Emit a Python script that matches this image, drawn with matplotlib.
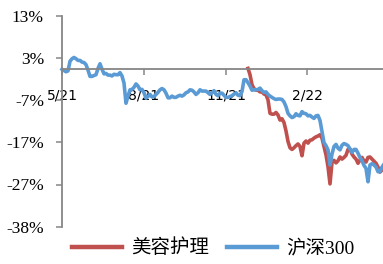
import matplotlib
matplotlib.use("Agg")
import matplotlib.pyplot as plt
import numpy as np

# ---- data (cumulative return, %) ----
hs300 = [0.0, -0.3, -0.6, -0.4, 1.9, 2.5, 2.8, 2.5, 2.1, 2.1,
         1.7, 1.6, 1.1, -0.2, -1.7, -1.7, -1.5, -1.3, 0.2, 1.3,
         0.0, -1.1, -1.0, -1.4, -1.4, -1.6, -1.2, -1.3, -1.3, -0.8,
         -1.6, -3.3, -8.1, -6.4, -4.9, -4.8, -4.3, -3.5, -4.0, -4.9,
         -4.8, -5.6, -6.9, -6.5, -6.0, -6.6, -6.5, -6.0, -5.5, -4.9,
         -4.6, -4.9, -5.7, -6.8, -6.8, -6.4, -6.7, -6.7, -6.4, -6.2,
         -6.4, -6.1, -5.6, -5.4, -4.9, -5.0, -5.4, -6.0, -5.6, -4.9,
         -5.2, -5.2, -5.2, -5.6, -6.0, -5.6, -5.1, -6.0, -6.3, -5.7,
         -5.7, -6.2, -6.7, -6.7, -6.5, -6.3, -5.9, -5.6, -6.2, -6.3,
         -5.3, -2.5, -2.5, -3.2, -4.0, -5.0, -4.9, -4.9, -4.8, -4.5,
         -5.1, -5.5, -5.4, -6.0, -6.4, -6.7, -7.0, -7.2, -7.1, -7.1,
         -7.2, -7.8, -8.9, -10.5, -11.1, -11.5, -11.3, -10.6, -11.0, -11.1,
         -10.1, -10.5, -10.6, -11.1, -11.0, -11.4, -11.7, -11.1, -11.0, -12.2,
         -14.8, -17.5, -18.2, -19.2, -22.8, -20.2, -18.4, -17.9, -18.8, -19.2,
         -18.1, -17.7, -17.9, -18.2, -19.0, -19.8, -19.1, -19.1, -20.0, -21.0,
         -21.8, -22.9, -23.6, -26.8, -22.8, -22.5, -22.8, -23.3, -24.4, -24.4,
         -23.3, -22.6]

beauty_start = 93
beauty = [0.2, -1.3, -3.7, -4.6, -5.0, -5.0, -5.4, -5.4, -5.9, -6.1,
          -7.3, -10.5, -10.7, -10.7, -10.3, -10.9, -12.1, -11.8, -12.7, -14.7,
          -17.2, -18.7, -19.1, -18.7, -18.2, -17.8, -18.4, -20.6, -17.6, -17.1,
          -17.6, -16.9, -16.8, -16.4, -16.1, -15.9, -15.6, -16.4, -18.4, -20.4,
          -23.2, -27.3, -22.2, -21.7, -22.3, -21.8, -20.9, -21.4, -21.0, -20.5,
          -19.1, -19.0, -20.2, -20.9, -21.4, -22.4, -21.6, -21.0, -21.9, -22.1,
          -21.0, -20.9, -21.4, -21.9, -22.4, -23.3, -24.5, -24.0, -23.2]

series_names = ["美容护理", "沪深300"]
x_tick_pos = [0, 41, 82, 122.7]
x_tick_labels = ["5/21", "8/21", "11/21", "2/22"]
y_tick_labels = ["-38%", "-27%", "-17%", "-7%", "3%", "13%"]
y_min, y_max = -37.5, 12.75

# ---- plot ----
W, H = 383, 264
fig = plt.figure(figsize=(W / 100, H / 100), dpi=100)
ax = fig.add_axes([62 / W, 1 - 226.7 / H, (384 - 62) / W, (226.7 - 15.7) / H])

x_all = np.arange(len(hs300))
x_beauty = np.arange(beauty_start, beauty_start + len(beauty))

red = "#C0504D"
blue = "#5B9BD5"
ax.plot(x_beauty, beauty, color=red, lw=2.6, label=series_names[0],
        solid_joinstyle="round", clip_on=False)
ax.plot(x_all, hs300, color=blue, lw=2.6, label=series_names[1],
        solid_joinstyle="round", clip_on=False)

ax.set_xlim(0, len(hs300) - 1)
ax.set_ylim(y_min, y_max)
ax.set_yticks(np.linspace(y_min, y_max, 6))
ax.set_yticklabels(y_tick_labels, family="Liberation Serif", fontsize=12.5)
ax.set_xticks(x_tick_pos)
ax.set_xticklabels(x_tick_labels, family="Liberation Serif", fontsize=13.5)

gray = "#868686"
for s in ["top", "right"]:
    ax.spines[s].set_visible(False)
ax.spines["bottom"].set_position(("data", 0))
ax.spines["bottom"].set_color(gray)
ax.spines["left"].set_color(gray)
ax.spines["bottom"].set_linewidth(1.3)
ax.spines["left"].set_linewidth(1.3)
ax.tick_params(axis="y", direction="out", length=4, width=1.1, color=gray, pad=9)
ax.tick_params(axis="x", direction="out", length=4, width=1.1, color=gray, pad=10)

leg = fig.legend(loc="center", bbox_to_anchor=(213 / W, 1 - 248 / H), ncol=2,
                 frameon=False, handlelength=2.6, handletextpad=0.45,
                 columnspacing=0.9,
                 prop={"family": ["Liberation Serif", "Noto Sans CJK SC"], "size": 14})
for line in leg.get_lines():
    line.set_linewidth(3.2)

fig.savefig("out.png", dpi=100)
